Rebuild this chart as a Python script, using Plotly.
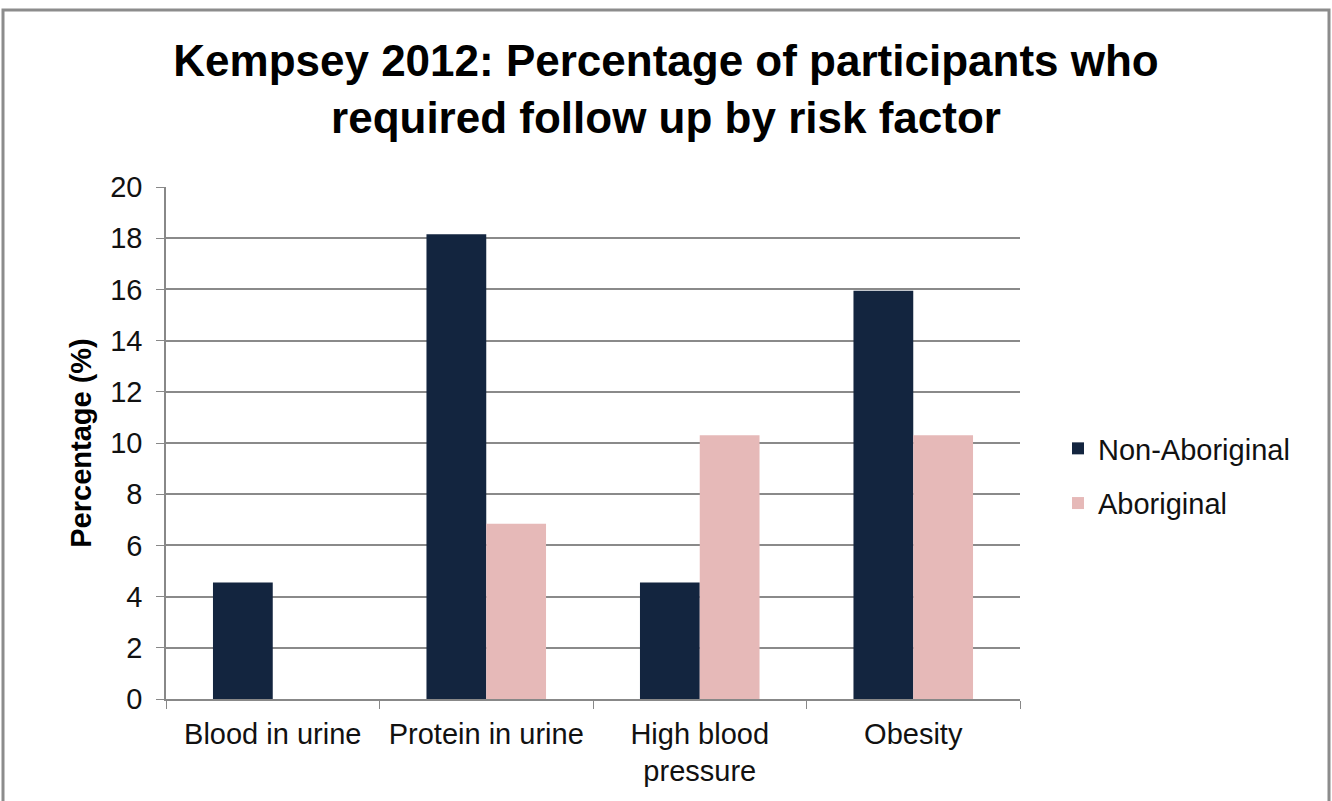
import plotly.graph_objects as go

categories = ["Blood in urine", "Protein in urine", "High blood<br>pressure", "Obesity"]
non_aboriginal = [4.55, 18.15, 4.55, 15.95]
aboriginal = [0, 6.85, 10.3, 10.3]
series_names = ["Non-Aboriginal", "Aboriginal"]
y_ticks = [0, 2, 4, 6, 8, 10, 12, 14, 16, 18, 20]

W, H = 1332, 801
L, R, T, B = 166, 1020, 187, 699

fig = go.Figure()
fig.add_trace(go.Bar(x=categories, y=non_aboriginal, name=series_names[0],
                     marker=dict(color="#13253F", line=dict(width=0)), legendgroup="a"))
fig.add_trace(go.Bar(x=categories, y=aboriginal, name=series_names[1],
                     marker=dict(color="#E6B9B8", line=dict(width=0)), legendgroup="b"))

font = "Arial, Liberation Sans, sans-serif"
pw, ph = R - L, B - T
fig.update_layout(
    width=W, height=H,
    margin=dict(l=L, r=W - R, t=T, b=H - B, autoexpand=False),
    paper_bgcolor="white", plot_bgcolor="white",
    barmode="group", bargap=0.44, bargroupgap=0,
    font=dict(family=font, color="#111"),
    title=dict(text="<b>Kempsey 2012: Percentage of participants who<br>required follow up by risk factor</b>",
               x=0.5, xanchor="center", y=1 - 76 / H, yanchor="middle", yref="container",
               font=dict(size=44, color="#000")),
    showlegend=True,
    legend=dict(x=(1058 - L) / pw, xanchor="left", y=(B - 476) / ph, yanchor="middle",
                font=dict(size=29, color="#111"), tracegroupgap=14, bgcolor="rgba(0,0,0,0)"),
    xaxis=dict(showline=True, linecolor="#888", linewidth=1.5, ticks="outside", ticklen=8,
               tickcolor="#888", tickson="boundaries", tickfont=dict(size=29, color="#111"),
               showgrid=False, ticklabelstandoff=8),
    yaxis=dict(range=[0, 20], tickvals=y_ticks, showline=True, linecolor="#888", linewidth=1.5,
               ticks="outside", ticklen=8, tickcolor="#888", gridcolor="#8a8a8a", gridwidth=1.5,
               tickfont=dict(size=29, color="#111"), zeroline=False, ticklabelstandoff=8,
               title=dict(text="<b>Percentage (%)</b>", font=dict(size=29, color="#000"), standoff=10)),
    shapes=[dict(type="rect", xref="paper", yref="paper",
                 x0=(3 - L) / pw, x1=(1329 - L) / pw, y0=(B - 812) / ph, y1=(B - 10) / ph,
                 line=dict(color="#8c8c8c", width=3), fillcolor="rgba(0,0,0,0)", layer="below")],
)
fig.write_html("out.html", config={"displayModeBar": False},
               post_script="document.body.style.margin='0';document.body.style.overflow='hidden';")
